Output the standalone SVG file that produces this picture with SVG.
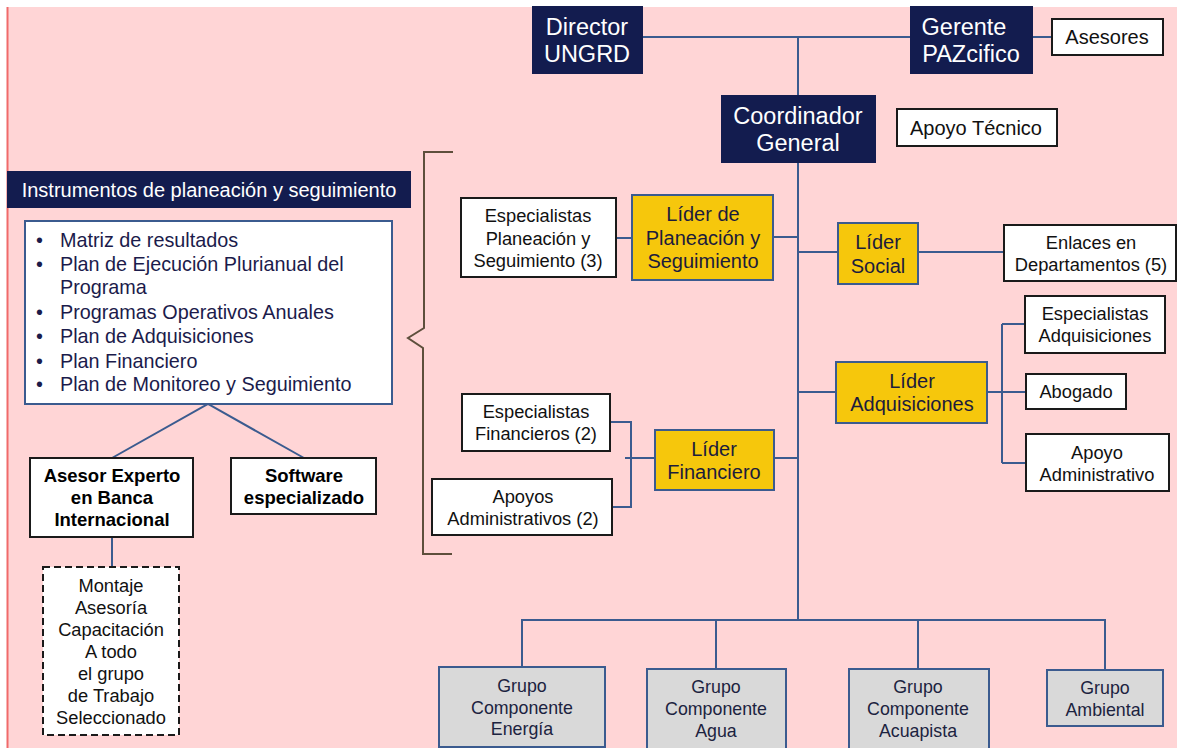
<svg xmlns="http://www.w3.org/2000/svg" width="1177" height="748" viewBox="0 0 1177 748">
<style>
text{font-family:"Liberation Sans",Arial,sans-serif;text-anchor:middle}
.dark{fill:#131c4f}
.dt{fill:#ffffff;font-size:23.5px}
.wb{fill:#ffffff;stroke:#1a1a1a;stroke-width:2}
.wt{fill:#111;font-size:18.3px}
.ld{fill:#f6c70c;stroke:#3b5b8f;stroke-width:2}
.lt{fill:#1c1c3c;font-size:20px}
.gb{fill:#d9d9d9;stroke:#3b5b8f;stroke-width:2}
.gt{fill:#1c2340;font-size:17.8px}
.c{stroke:#3b5b8f;stroke-width:2;fill:none}
.li{fill:#1b1b4b;font-size:19.8px;text-anchor:start}
.bt{font-size:18.5px;font-weight:bold;fill:#000}
</style>
<rect x="0" y="0" width="1177" height="748" fill="#ffffff"/>
<rect x="7" y="7" width="1170" height="741" fill="#ffd5d6"/>
<line x1="7.5" y1="7" x2="7.5" y2="748" stroke="#f06a6a" stroke-width="2"/>

<g id="connectors">
<path class="c" d="M643 37H910M1033 37H1052M798 37V620"/>
<path class="c" d="M616 238H632M773 237H798M798 252H838M918 252H1004"/>
<path class="c" d="M798 392H836M987 392H1025M1002 324V463M1002 324H1025M1002 463H1026"/>
<path class="c" d="M774 458H798M625 458H655M610 422H631V507H612"/>
<path class="c" d="M522 667V620H1105V670M716 620V669M918 620V669"/>
<path class="c" d="M112 458L208 404L304 458M112 537V567"/>
<path d="M453 152H424V328L408 338L423 348V554H452" fill="none" stroke="#5e4f3c" stroke-width="2"/>
</g>

<g id="director"><rect class="dark" x="532" y="6" width="111" height="68"/><text class="dt" x="587" y="35">Director</text><text class="dt" x="587" y="62">UNGRD</text></g>
<g id="gerente"><rect class="dark" x="910" y="6" width="123" height="68"/><text class="dt" x="964" y="35">Gerente</text><text class="dt" x="971" y="62">PAZcifico</text></g>
<g id="asesores"><rect class="wb" x="1052" y="19" width="111" height="36"/><text class="wt" x="1107" y="44" style="font-size:20px">Asesores</text></g>
<g id="coordinador"><rect class="dark" x="721" y="95" width="155" height="68"/><text class="dt" x="798" y="124">Coordinador</text><text class="dt" x="798" y="151">General</text></g>
<g id="apoyo-tecnico"><rect class="wb" x="897" y="109" width="160" height="37"/><text class="wt" x="976" y="135" style="font-size:20px">Apoyo Técnico</text></g>

<g id="instrumentos"><rect class="dark" x="7" y="171" width="404" height="37"/><text x="209" y="197" fill="#fff" style="font-size:20px">Instrumentos de planeación y seguimiento</text></g>
<g id="lista"><rect x="25" y="221" width="367" height="183" fill="#fff" stroke="#3b5b8f" stroke-width="2"/>
<text class="li" x="36" y="247">•</text><text class="li" x="60" y="247">Matriz de resultados</text>
<text class="li" x="36" y="271">•</text><text class="li" x="60" y="271">Plan de Ejecución Plurianual del</text>
<text class="li" x="60" y="294">Programa</text>
<text class="li" x="36" y="319">•</text><text class="li" x="60" y="319">Programas Operativos Anuales</text>
<text class="li" x="36" y="343">•</text><text class="li" x="60" y="343">Plan de Adquisiciones</text>
<text class="li" x="36" y="368">•</text><text class="li" x="60" y="368">Plan Financiero</text>
<text class="li" x="36" y="391">•</text><text class="li" x="60" y="391">Plan de Monitoreo y Seguimiento</text>
</g>
<g id="asesor-experto"><rect class="wb" x="30" y="458" width="163" height="79"/>
<text class="bt" x="112" y="482">Asesor Experto</text>
<text class="bt" x="112" y="504">en Banca</text>
<text class="bt" x="112" y="526">Internacional</text></g>
<g id="software"><rect class="wb" x="231" y="458" width="145" height="56"/>
<text class="bt" x="304" y="482">Software</text>
<text class="bt" x="304" y="504">especializado</text></g>
<g id="montaje"><rect x="43" y="567" width="136" height="168" fill="#fff" stroke="#1a1a1a" stroke-width="2" stroke-dasharray="7,4"/>
<text class="wt" x="111" y="592">Montaje</text><text class="wt" x="111" y="614">Asesoría</text><text class="wt" x="111" y="636">Capacitación</text><text class="wt" x="111" y="658">A todo</text><text class="wt" x="111" y="680">el grupo</text><text class="wt" x="111" y="702">de Trabajo</text><text class="wt" x="111" y="724">Seleccionado</text></g>

<g id="esp-planeacion"><rect class="wb" x="461" y="198" width="155" height="79"/><text class="wt" x="538" y="222">Especialistas</text><text class="wt" x="538" y="245">Planeación y</text><text class="wt" x="538" y="267">Seguimiento (3)</text></g>
<g id="lider-planeacion"><rect class="ld" x="632" y="195" width="141" height="85"/><text class="lt" x="703" y="221">Líder de</text><text class="lt" x="703" y="245">Planeación y</text><text class="lt" x="703" y="268">Seguimiento</text></g>
<g id="lider-social"><rect class="ld" x="838" y="223" width="80" height="61"/><text class="lt" x="878" y="249">Líder</text><text class="lt" x="878" y="273">Social</text></g>
<g id="enlaces"><rect class="wb" x="1004" y="225" width="172" height="56"/><text class="wt" x="1091" y="249">Enlaces en</text><text class="wt" x="1091" y="271">Departamentos (5)</text></g>
<g id="lider-adquisiciones"><rect class="ld" x="836" y="362" width="151" height="61"/><text class="lt" x="912" y="388">Líder</text><text class="lt" x="912" y="411">Adquisiciones</text></g>
<g id="esp-adquisiciones"><rect class="wb" x="1025" y="296" width="140" height="57"/><text class="wt" x="1095" y="320">Especialistas</text><text class="wt" x="1095" y="342">Adquisiciones</text></g>
<g id="abogado"><rect class="wb" x="1026" y="374" width="100" height="35"/><text class="wt" x="1076" y="398">Abogado</text></g>
<g id="apoyo-administrativo"><rect class="wb" x="1026" y="434" width="143" height="57"/><text class="wt" x="1097" y="459">Apoyo</text><text class="wt" x="1097" y="481">Administrativo</text></g>
<g id="lider-financiero"><rect class="ld" x="655" y="430" width="119" height="60"/><text class="lt" x="714" y="456">Líder</text><text class="lt" x="714" y="479">Financiero</text></g>
<g id="esp-financieros"><rect class="wb" x="462" y="394" width="148" height="57"/><text class="wt" x="536" y="418">Especialistas</text><text class="wt" x="536" y="440">Financieros (2)</text></g>
<g id="apoyos-administrativos"><rect class="wb" x="432" y="479" width="180" height="56"/><text class="wt" x="523" y="503">Apoyos</text><text class="wt" x="523" y="525">Administrativos (2)</text></g>

<g id="grupo-energia"><rect class="gb" x="439" y="667" width="166" height="80"/><text class="gt" x="522" y="692">Grupo</text><text class="gt" x="522" y="714">Componente</text><text class="gt" x="522" y="735">Energía</text></g>
<g id="grupo-agua"><rect class="gb" x="647" y="669" width="139" height="80"/><text class="gt" x="716" y="693">Grupo</text><text class="gt" x="716" y="715">Componente</text><text class="gt" x="716" y="737">Agua</text></g>
<g id="grupo-acuapista"><rect class="gb" x="849" y="669" width="140" height="80"/><text class="gt" x="918" y="693">Grupo</text><text class="gt" x="918" y="715">Componente</text><text class="gt" x="918" y="737">Acuapista</text></g>
<g id="grupo-ambiental"><rect class="gb" x="1047" y="670" width="116" height="56"/><text class="gt" x="1105" y="694">Grupo</text><text class="gt" x="1105" y="716">Ambiental</text></g>
</svg>
